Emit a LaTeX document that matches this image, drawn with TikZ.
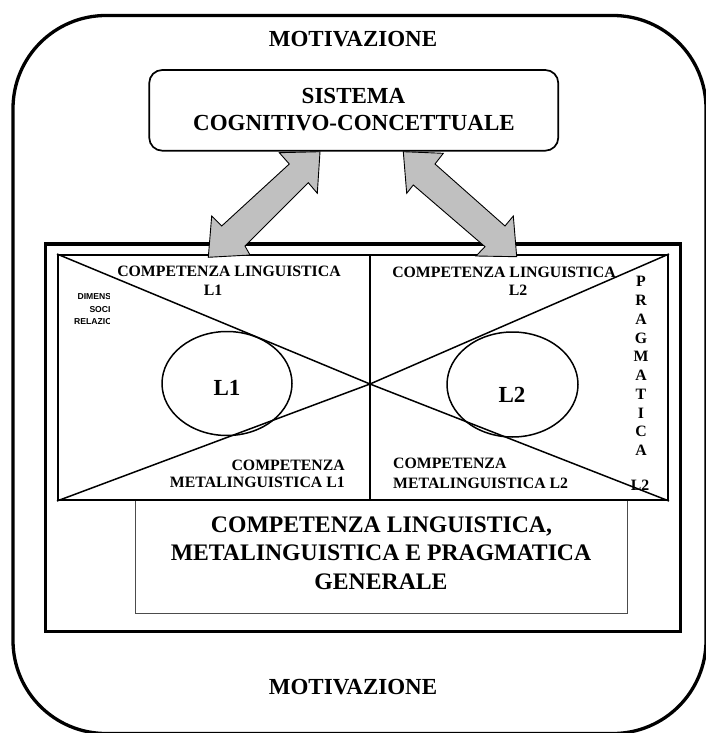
\documentclass[tikz,border=0pt]{standalone}
\usepackage{fontspec}
\setmainfont{Liberation Serif}
\newfontfamily\smallsans{Liberation Sans}
\usetikzlibrary{shapes.geometric}
\definecolor{arrowgray}{RGB}{192,192,192}
\begin{document}
\begin{tikzpicture}[x=1pt,y=-1pt,
  bigtxt/.style={font=\fontsize{23}{27}\selectfont\bfseries, inner sep=0pt, anchor=base},
  gentxt/.style={font=\fontsize{23.7}{28}\selectfont\bfseries, inner sep=0pt, anchor=base},
  midtxt/.style={font=\fontsize{15.8}{18}\selectfont\bfseries, inner sep=0pt, anchor=base},
  tinytxt/.style={font=\smallsans\fontsize{8.6}{10}\selectfont\bfseries, inner sep=0pt, anchor=base},
  boxnode/.style={draw, inner sep=0pt},
  fatarrow/.style={fill=arrowgray, draw=black, line width=0.9pt, line join=miter},
  diag/.style={line width=1.5pt},
]
\clip (0,0) rectangle (706,733);
\fill[white] (0,0) rectangle (706,733);

% outer rounded frame
\node[boxnode, line width=3.3pt, rounded corners=93pt, minimum width=693pt, minimum height=718pt] (outer) at (359.5,374.5) {};

% system box
\node[boxnode, line width=1.7pt, rounded corners=13pt, minimum width=409pt, minimum height=80.7pt] (sys) at (353.75,110.35) {};

% big frame
\node[boxnode, line width=3.5pt, minimum width=635pt, minimum height=387.5pt] (big) at (363,437.75) {};

% general box
\node[boxnode, draw=black!70, line width=1pt, minimum width=492.7pt, minimum height=113.7pt] (gen) at (381.35,556.85) {};

% inner boxes
\node[boxnode, line width=2pt, minimum width=312pt, minimum height=245pt] (lbox) at (214,377.5) {};
\node[boxnode, line width=2pt, minimum width=298pt, minimum height=245pt] (rbox) at (519,377.5) {};

% cross
\coordinate (xc) at (370,384);
\draw[diag] (lbox.north west) -- (xc) -- (lbox.south west);
\draw[diag] (rbox.north east) -- (xc) -- (rbox.south east);

% ellipses
\node[ellipse, draw, line width=1.5pt, minimum width=130pt, minimum height=104pt, inner sep=0pt] (e1) at (227,383.5) {};
\node[ellipse, draw, line width=1.5pt, minimum width=131pt, minimum height=105pt, inner sep=0pt] (e2) at (512.5,384.5) {};

% fat double arrows
\draw[fatarrow] (320,151.7) -- (317.3,193.3) -- (308.3,182.7) -- (245,246) -- (250,255) -- (208.3,257.3) -- (211.7,216) -- (221.7,226) -- (289.3,164) -- (279.3,152.7) -- cycle;
\draw[fatarrow] (403.3,151.7) -- (443.3,153.3) -- (435,164) -- (505,226) -- (513.3,216) -- (516.7,256.7) -- (476,256) -- (485,246.7) -- (413.3,185) -- (406.7,193.3) -- cycle;

% texts
\node[bigtxt] (mot1) at (353,46.6) {MOTIVAZIONE};
\node[bigtxt] (mot2) at (353,694.6) {MOTIVAZIONE};
\node[bigtxt] (sys1) at (353.5,103.1) {SISTEMA};
\node[bigtxt] (sys2) at (354,130.1) {COGNITIVO-CONCETTUALE};

\node[gentxt] (gen1) at (381.5,532) {COMPETENZA LINGUISTICA,};
\node[gentxt] (gen2) at (381,560.5) {METALINGUISTICA E PRAGMATICA};
\node[gentxt] (gen3) at (381,589) {GENERALE};

\node[midtxt] (cl1) at (229,276.2) {COMPETENZA LINGUISTICA};
\node[midtxt] (cl1b) at (213,295.2) {L1};
\node[midtxt] (cl2) at (504,277.2) {COMPETENZA LINGUISTICA};
\node[midtxt] (cl2b) at (518,295.2) {L2};

\node[midtxt, anchor=base east] (cm1) at (345,470.2) {COMPETENZA};
\node[midtxt, anchor=base east] (cm1b) at (345,487.8) {METALINGUISTICA L1};
\node[midtxt, anchor=base west] (cm2) at (393,468.5) {COMPETENZA};
\node[midtxt, anchor=base west] (cm2b) at (393,488.2) {METALINGUISTICA L2};

\foreach \c [count=\i from 0] in {P,R,A,G,M,A,T,I,C,A}
  \node[midtxt] (prag\i) at (641,286.9+18.75*\i) {\c};
\node[midtxt] (pragL) at (640,490.2) {L2};

\node[font=\fontsize{23}{27}\selectfont\bfseries, inner sep=0pt, anchor=base] (L1) at (227,395.1) {L1};
\node[font=\fontsize{23}{27}\selectfont\bfseries, inner sep=0pt, anchor=base] (L2) at (512,402.6) {L2};

% clipped small label
\begin{scope}
\clip (58,256) rectangle (109.5,340);
\node[tinytxt] (dim1) at (104.8,299.1) {DIMENSIONE};
\node[tinytxt] (dim2) at (104.8,312.1) {SOCIO-};
\node[tinytxt] (dim3) at (104.8,324.8) {RELAZIONALE};
\end{scope}
\end{tikzpicture}
\end{document}
